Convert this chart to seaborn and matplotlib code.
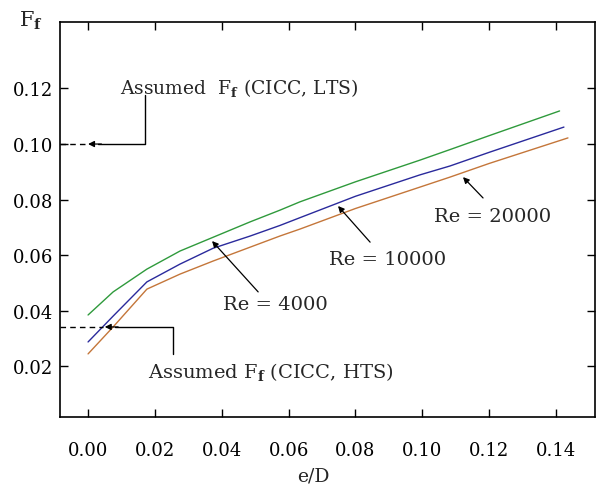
import numpy as np
import pandas as pd
import matplotlib
matplotlib.use("Agg")
import matplotlib.pyplot as plt
import seaborn as sns

# ---- data ----
ed_4000 = [0.0, 0.0075, 0.0176, 0.0275, 0.0365, 0.0485, 0.0574, 0.0634, 0.080, 0.0993, 0.1083, 0.120, 0.1411]
ff_4000 = [0.0385, 0.0468, 0.0550, 0.0615, 0.0660, 0.0720, 0.0762, 0.0792, 0.0864, 0.0942, 0.0980, 0.1030, 0.1119]

ed_10000 = [0.0, 0.0075, 0.0176, 0.0275, 0.0374, 0.0485, 0.0574, 0.0634, 0.080, 0.0993, 0.1083, 0.120, 0.1424]
ff_10000 = [0.0288, 0.0381, 0.0504, 0.0568, 0.0625, 0.0669, 0.0707, 0.0735, 0.0812, 0.0889, 0.0921, 0.0970, 0.1061]

ed_20000 = [0.0, 0.0075, 0.0176, 0.0275, 0.0374, 0.0485, 0.0574, 0.0634, 0.080, 0.0993, 0.1083, 0.120, 0.1436]
ff_20000 = [0.0245, 0.0342, 0.0478, 0.0532, 0.0579, 0.0629, 0.0669, 0.0694, 0.0768, 0.0845, 0.0881, 0.0930, 0.1022]

series_names = ["Re = 4000", "Re = 10000", "Re = 20000"]
series_colors = ["#2f9a3c", "#2a2a9c", "#c4763a"]

x_ticks = [0.00, 0.02, 0.04, 0.06, 0.08, 0.10, 0.12, 0.14]
y_ticks = [0.02, 0.04, 0.06, 0.08, 0.10, 0.12]

df = pd.concat([
    pd.DataFrame({"e/D": ed_4000, "Ff": ff_4000, "Re": series_names[0]}),
    pd.DataFrame({"e/D": ed_10000, "Ff": ff_10000, "Re": series_names[1]}),
    pd.DataFrame({"e/D": ed_20000, "Ff": ff_20000, "Re": series_names[2]}),
], ignore_index=True)

sns.set_theme(style="ticks")
plt.rcParams["font.family"] = ["DejaVu Serif", "Liberation Serif"]
plt.rcParams["mathtext.fontset"] = "custom"
plt.rcParams["mathtext.rm"] = "DejaVu Serif"
plt.rcParams["mathtext.it"] = "DejaVu Serif:italic"
plt.rcParams["mathtext.bf"] = "DejaVu Serif:bold"

fig = plt.figure(figsize=(6.09, 4.89), dpi=100)
ax = fig.add_axes([60 / 609, 1 - 418 / 489, 535 / 609, 395 / 489])

sns.lineplot(data=df, x="e/D", y="Ff", hue="Re", palette=series_colors,
             hue_order=series_names, linewidth=1.0, legend=False, ax=ax,
             estimator=None, sort=True)

ax.set_xlim(-0.0084, 0.1517)
ax.set_ylim(0.0018, 0.1439)
ax.set_xticks(x_ticks)
ax.set_xticklabels([f"{v:.2f}" for v in x_ticks])
ax.set_yticks(y_ticks)
ax.set_yticklabels([f"{v:.2f}" for v in y_ticks])
ax.tick_params(direction="in", length=6, width=1.0, top=True, right=True,
               labelsize=13, colors="black")
ax.tick_params(axis="y", pad=5)
ax.tick_params(axis="x", pad=17)
for s in ax.spines.values():
    s.set_linewidth(1.2)
    s.set_color("black")
ax.set_xlabel("")
ax.set_ylabel("")

fig.text(313 / 609, 1 - 477 / 489, "e/D", ha="center", va="center", fontsize=13.5)
fig.text(31 / 609, 1 - 21 / 489, r"F$_{\mathbf{f}}$", ha="center", va="center", fontsize=15)

arrow_kw = dict(arrowstyle="-|>", color="black", lw=0.9, mutation_scale=9,
                shrinkA=0, shrinkB=0)

# LTS annotation
ax.text(0.0096, 0.1205, r"Assumed  F$_{\mathbf{f}}$ (CICC, LTS)", fontsize=13.5,
        ha="left", va="center")
ax.plot([0.017, 0.017, 0.003], [0.1176, 0.10, 0.10], color="black", lw=1.0)
ax.annotate("", xy=(0.0, 0.10), xytext=(0.004, 0.10), arrowprops=arrow_kw)
ax.plot([-0.0084, 0.0], [0.10, 0.10], color="black", lw=1.0, ls=(0, (4, 3)))

# HTS annotation
ax.text(0.018, 0.0183, r"Assumed F$_{\mathbf{f}}$ (CICC, HTS)", fontsize=14,
        ha="left", va="center")
ax.plot([0.0254, 0.0254, 0.008], [0.0245, 0.0342, 0.0342], color="black", lw=1.0)
ax.annotate("", xy=(0.005, 0.0342), xytext=(0.009, 0.0342), arrowprops=arrow_kw)
ax.plot([-0.0084, 0.0045], [0.0342, 0.0342], color="black", lw=1.0, ls=(0, (4, 3)))

# Re labels
ax.text(0.0562, 0.0424, "Re = 4000", fontsize=14, ha="center", va="center")
ax.annotate("", xy=(0.0371, 0.0651), xytext=(0.0509, 0.0468), arrowprops=arrow_kw)
ax.text(0.0897, 0.0586, "Re = 10000", fontsize=14, ha="center", va="center")
ax.annotate("", xy=(0.0748, 0.0777), xytext=(0.0844, 0.0647), arrowprops=arrow_kw)
ax.text(0.1211, 0.0741, "Re = 20000", fontsize=14, ha="center", va="center")
ax.annotate("", xy=(0.1122, 0.0881), xytext=(0.1182, 0.0806), arrowprops=arrow_kw)

fig.savefig("out.png", dpi=100, facecolor="white")
